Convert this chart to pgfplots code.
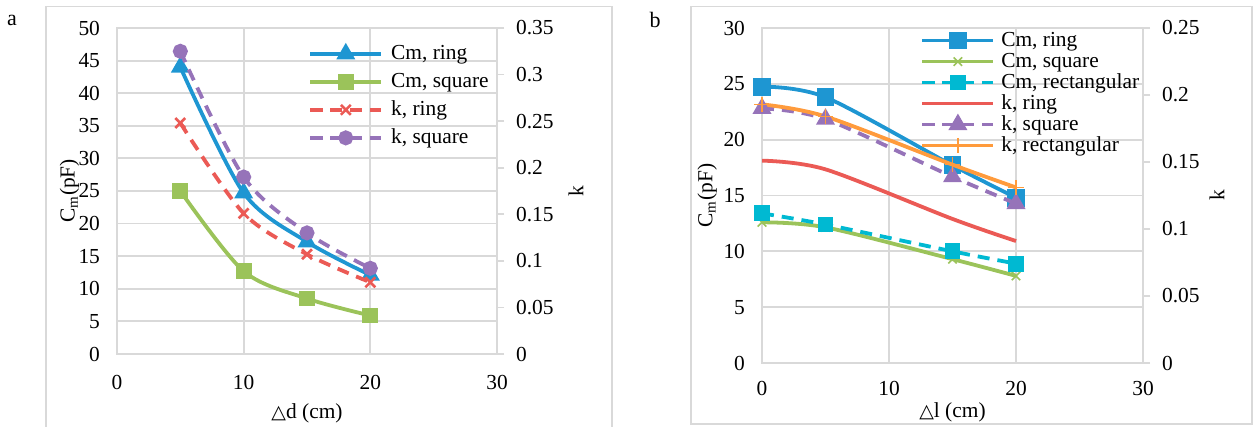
\documentclass[border=0pt]{standalone}
\usepackage{pgfplots}
\pgfplotsset{compat=1.18}
\usepackage{fontspec}
\setmainfont{Liberation Serif}
\newfontfamily\symb{DejaVu Sans}
\definecolor{cblue}{RGB}{30,150,210}
\definecolor{cgreen}{RGB}{155,195,90}
\definecolor{cred}{RGB}{235,90,85}
\definecolor{cpurple}{RGB}{150,115,185}
\definecolor{ccyan}{RGB}{0,185,210}
\definecolor{corange}{RGB}{255,155,60}
\definecolor{gridgray}{RGB}{217,217,217}
\newcommand\fs{\fontsize{10.7}{12}\selectfont}
\pgfplotsset{
  base/.style={scale only axis, anchor=south west, xmin=0, xmax=30,
    /pgf/number format/assume math mode=true,
    font=\fs, ticklabel style={font=\fs},
    label style={font=\fs}},
  leftax/.style={base, xtick={0,10,20,30},
    grid=major, major grid style={gridgray, line width=0.9pt},
    axis line style={gridgray, line width=0.9pt},
    major tick length=0pt,
    yticklabel style={xshift=-5pt}},
  rightax/.style={base, axis y line*=right, axis x line=none,
    tick align=outside, major tick length=3.5pt,
    tick style={gridgray, line width=0.9pt},
    axis line style={gridgray, line width=0.9pt},
    yticklabel style={xshift=2.5pt, /pgf/number format/fixed, /pgf/number format/precision=2},
    legend cell align=left,
    legend image code/.code={\draw[mark repeat=2, mark phase=2] plot coordinates {(0pt,0pt) (17.75pt,0pt) (35.5pt,0pt)};}},
  % panel a styles
  aCmRing/.style={cblue, line width=1.9pt, smooth, mark=triangle*, mark size=3.6pt, mark options={solid}},
  aCmSq/.style={cgreen, line width=1.9pt, smooth, mark=square*, mark size=3pt, mark options={solid}},
  akRing/.style={cred, line width=1.9pt, smooth, dash pattern=on 6pt off 4pt, mark=x, mark size=3.5pt, mark options={solid, line width=1.3pt}},
  akSq/.style={cpurple, line width=1.9pt, smooth, dash pattern=on 6pt off 4pt, mark=*, mark size=2.8pt, mark options={solid}},
  % panel b styles
  bCmRing/.style={cblue, line width=1.9pt, smooth, mark=square*, mark size=3.5pt, mark options={solid}},
  bCmSq/.style={cgreen, line width=1.9pt, smooth, mark=x, mark size=3pt, mark options={solid, line width=0.8pt}},
  bCmRect/.style={ccyan, line width=1.9pt, smooth, dash pattern=on 6pt off 4pt, mark=square*, mark size=3pt, mark options={solid}},
  bkRing/.style={cred, line width=1.9pt, smooth, no markers},
  bkSq/.style={cpurple, line width=1.9pt, smooth, dash pattern=on 6pt off 4pt, mark=triangle*, mark size=3.6pt, mark options={solid}},
  bkRect/.style={corange, line width=1.9pt, smooth, mark=+, mark size=3.8pt, mark options={solid, line width=0.8pt}},
}
\begin{document}
\begin{tikzpicture}
\path[use as bounding box] (0,0) rectangle (630pt,213.5pt);
% chart frames
\draw[gridgray, line width=0.8pt] (23pt,-3pt) -- (23pt,210.2pt) -- (306pt,210.2pt) -- (306pt,-3pt);
\draw[gridgray, line width=0.8pt] (345.5pt,1.5pt) rectangle (626pt,210.2pt);
\node[font=\fontsize{11}{13}\selectfont] at (6pt,203.5pt) {a};
\node[font=\fontsize{11}{13}\selectfont] at (327.5pt,203.5pt) {b};

% ---------------- panel a ----------------
\begin{axis}[leftax, at={(58.5pt,36.5pt)}, width=190pt, height=163pt,
  ymin=0, ymax=50, ytick={0,5,10,15,20,25,30,35,40,45,50},
  xticklabel style={yshift=-7pt},
  xlabel={{\symb\fontsize{9.5}{12}\selectfont △}d (cm)},
  ylabel={C\textsubscript{m}(pF)},
  xlabel style={at={(axis description cs:0.5,-0.181)}, anchor=center},
  ylabel style={at={(axis description cs:-0.125,0.5)}, anchor=center}]
\addplot[aCmRing] coordinates {(5,44.0) (10,24.7) (15,17.2) (20,12.1)};
\addplot[aCmSq] coordinates {(5,25.0) (10,12.7) (15,8.5) (20,5.9)};
\end{axis}
\begin{axis}[rightax, at={(58.5pt,36.5pt)}, width=190pt, height=163pt,
  ymin=0, ymax=0.35, ytick={0,0.05,0.1,0.15,0.2,0.25,0.3,0.35},
  ylabel={k},
  ylabel style={at={(axis description cs:1.208,0.5)}, anchor=center},
  legend style={at={(axis description cs:0.5026,0.951)}, anchor=north west,
    draw=none, fill=none, font=\fs, inner sep=0pt, row sep=4.5pt, column sep=4pt,
    nodes={inner sep=0pt, text height=7.5pt, text depth=2pt}}]
\addlegendimage{aCmRing}\addlegendentry{Cm, ring}
\addlegendimage{aCmSq}\addlegendentry{Cm, square}
\addplot[akRing] coordinates {(5,0.248) (10,0.151) (15,0.107) (20,0.077)};
\addlegendentry{k, ring}
\addplot[akSq] coordinates {(5,0.325) (10,0.190) (15,0.130) (20,0.092)};
\addlegendentry{k, square}
\end{axis}

% ---------------- panel b ----------------
\begin{axis}[leftax, at={(381pt,32pt)}, width=190.5pt, height=167.5pt,
  ymin=0, ymax=30, ytick={0,5,10,15,20,25,30},
  xticklabel style={yshift=-5.5pt},
  xlabel={{\symb\fontsize{9.5}{12}\selectfont △}l (cm)},
  ylabel={C\textsubscript{m}(pF)},
  xlabel style={at={(axis description cs:0.5,-0.146)}, anchor=center},
  ylabel style={at={(axis description cs:-0.144,0.5)}, anchor=center}]
\addplot[bCmRing] coordinates {(0,24.75) (5,23.8) (15,17.7) (20,14.8)};
\addplot[bCmSq] coordinates {(0,12.6) (5,12.15) (15,9.3) (20,7.8)};
\addplot[bCmRect] coordinates {(0,13.4) (5,12.4) (15,10.0) (20,8.9)};
\end{axis}
\begin{axis}[rightax, at={(381pt,32pt)}, width=190.5pt, height=167.5pt,
  ymin=0, ymax=0.25, ytick={0,0.05,0.1,0.15,0.2,0.25},
  ylabel={k},
  ylabel style={at={(axis description cs:1.194,0.5)}, anchor=center},
  legend style={at={(axis description cs:0.415,0.992)}, anchor=north west,
    draw=none, fill=none, font=\fs, inner sep=0pt, row sep=1pt, column sep=3pt,
    nodes={inner sep=0pt, text height=7.5pt, text depth=2pt}}]
\addlegendimage{bCmRing}\addlegendentry{Cm, ring}
\addlegendimage{bCmSq}\addlegendentry{Cm, square}
\addlegendimage{bCmRect}\addlegendentry{Cm, rectangular}
\addplot[bkRing] coordinates {(0,0.151) (5,0.1445) (15,0.1075) (20,0.091)};
\addlegendentry{k, ring}
\addplot[bkSq] coordinates {(0,0.190) (5,0.182) (15,0.139) (20,0.119)};
\addlegendentry{k, square}
\addplot[bkRect] coordinates {(0,0.193) (5,0.184) (15,0.148) (20,0.131)};
\addlegendentry{k, rectangular}
\end{axis}
\end{tikzpicture}
\end{document}
